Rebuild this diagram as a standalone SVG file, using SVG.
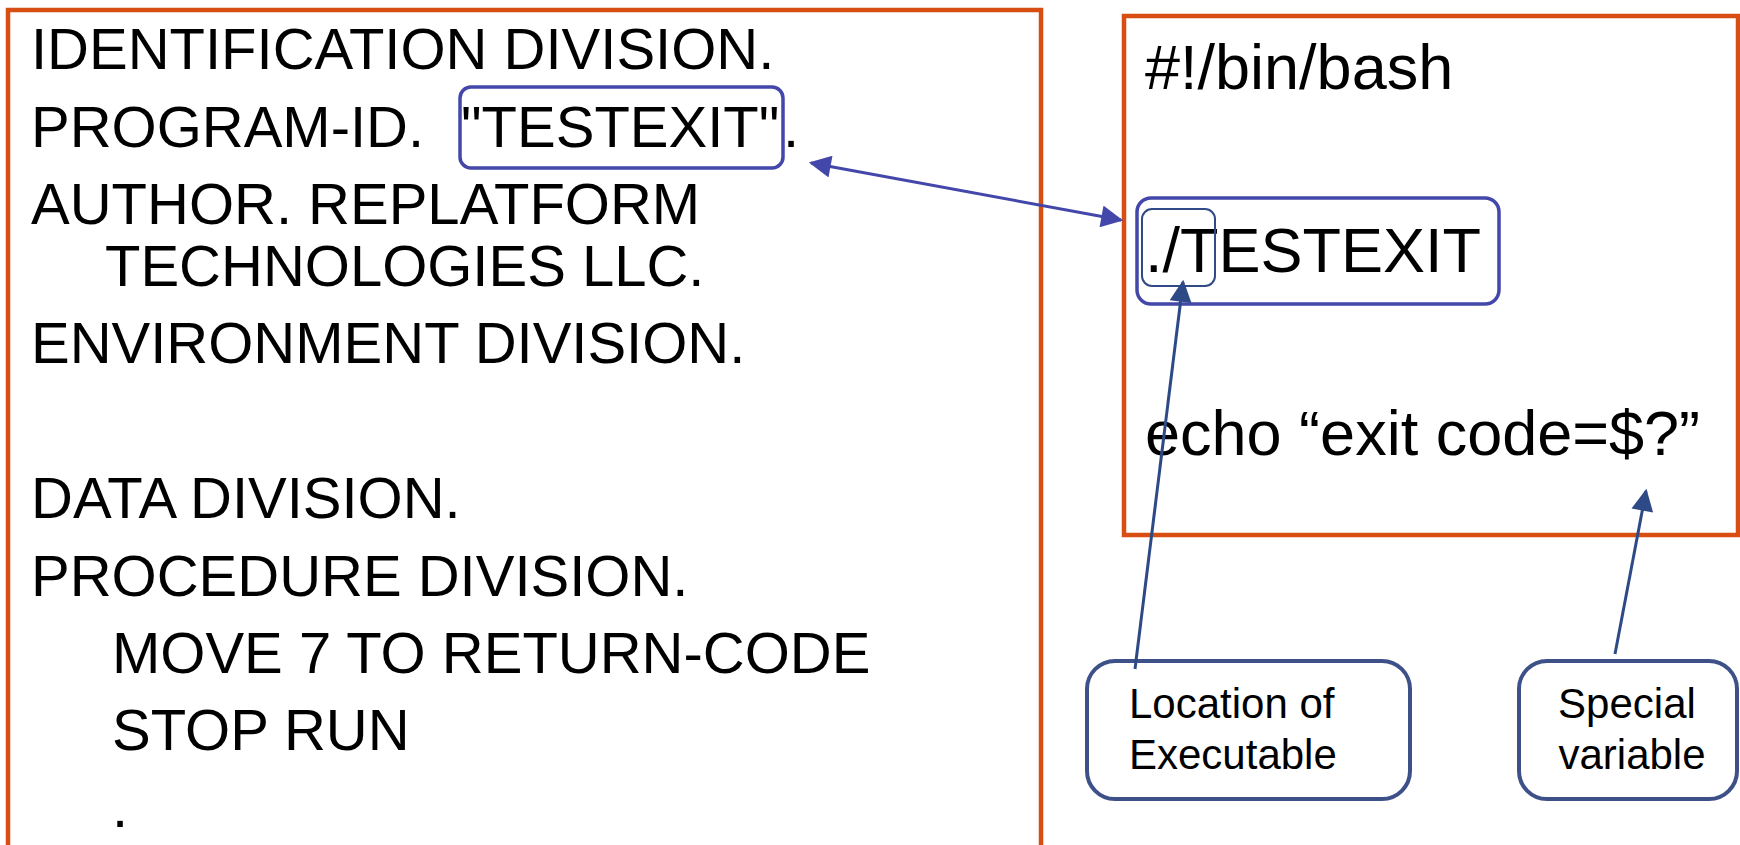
<svg xmlns="http://www.w3.org/2000/svg" width="1740" height="845" viewBox="0 0 1740 845">
<style>
.frame{fill:#fff;stroke:#D84E12;stroke-width:4.5}
.code{font-family:"Liberation Sans",Arial,sans-serif;font-size:58px;fill:#000}
.code2{font-family:"Liberation Sans",Arial,sans-serif;font-size:63px;fill:#000}
.hl{fill:none;stroke:#4347AA;stroke-width:3.5}
.hl2{fill:none;stroke:#2F4A86;stroke-width:2}
.callout{fill:#fff;stroke:#3D5088;stroke-width:4}
.ctext{font-family:"Liberation Sans",Arial,sans-serif;font-size:42px;fill:#000}
.blue{stroke:#4347AA;stroke-width:3;fill:none}
.navy{stroke:#2E4A86;stroke-width:3;fill:none}
</style>
<defs>
<marker id="hb" viewBox="0 0 10 10" refX="9" refY="5" markerWidth="23" markerHeight="22" markerUnits="userSpaceOnUse" orient="auto-start-reverse"><path d="M0,0 L10,5 L0,10 Z" fill="#4347AA"/></marker>
<marker id="hn" viewBox="0 0 10 10" refX="9" refY="5" markerWidth="26" markerHeight="22" markerUnits="userSpaceOnUse" orient="auto"><path d="M0,0 L10,5 L0,10 Z" fill="#2E4A86"/></marker>
</defs>
<rect width="1740" height="845" fill="#fff"/>
<g id="cobol">
<rect class="frame" x="8" y="10" width="1033" height="900"/>
<text class="code" x="31" y="69">IDENTIFICATION DIVISION.</text>
<text class="code" x="31" y="147">PROGRAM-ID.</text>
<text class="code" x="461" y="147">"TESTEXIT"</text>
<text class="code" x="783" y="147">.</text>
<text class="code" x="31" y="224">AUTHOR. REPLATFORM</text>
<text class="code" x="105" y="286">TECHNOLOGIES LLC.</text>
<text class="code" x="31" y="363">ENVIRONMENT DIVISION.</text>
<text class="code" x="31" y="518">DATA DIVISION.</text>
<text class="code" x="31" y="596">PROCEDURE DIVISION.</text>
<text class="code" x="112" y="673">MOVE 7 TO RETURN-CODE</text>
<text class="code" x="112" y="750">STOP RUN</text>
<text class="code" x="112" y="827">.</text>
</g>
<g id="progid-highlight">
<rect class="hl" x="460" y="87" width="323" height="81" rx="11"/>
</g>
<g id="bash">
<rect class="frame" x="1124" y="16" width="614" height="519"/>
<text class="code2" x="1145" y="89">#!/bin/bash</text>
<text class="code2" x="1145" y="272">./TESTEXIT</text>
<text class="code2" x="1145" y="455">echo “exit code=$?”</text>
</g>
<g id="exec-highlight">
<rect class="hl" x="1137" y="198" width="362" height="106" rx="14"/>
<rect class="hl2" x="1142" y="209" width="73" height="77" rx="10"/>
</g>
<g id="location-callout">
<rect class="callout" x="1087" y="661" width="323" height="138" rx="28"/>
<text class="ctext" x="1129" y="718">Location of</text>
<text class="ctext" x="1129" y="769">Executable</text>
</g>
<g id="special-callout">
<rect class="callout" x="1519" y="661" width="218" height="138" rx="28"/>
<text class="ctext" x="1627" y="718" text-anchor="middle">Special</text>
<text class="ctext" x="1632" y="769" text-anchor="middle">variable</text>
</g>
<g id="connectors">
<line class="blue" x1="811" y1="163" x2="1121" y2="220" marker-start="url(#hb)" marker-end="url(#hb)"/>
<line class="navy" x1="1135" y1="669" x2="1183" y2="282" marker-end="url(#hn)"/>
<line class="navy" x1="1615" y1="654" x2="1646" y2="491" marker-end="url(#hn)"/>
</g>
</svg>
